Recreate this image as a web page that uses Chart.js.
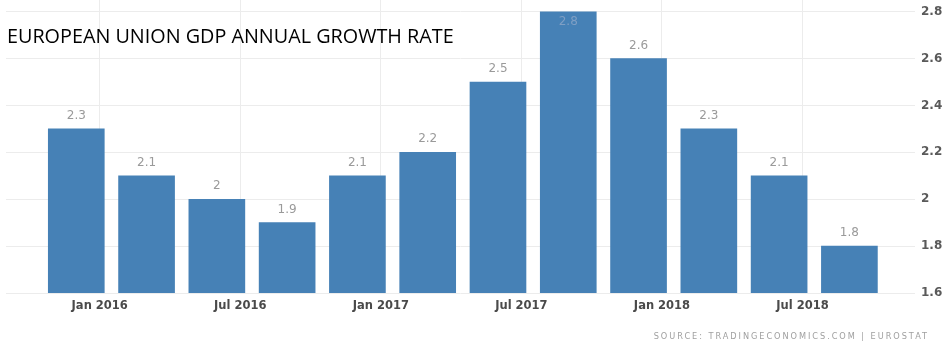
<!DOCTYPE html>
<html>
<head>
<meta charset="utf-8">
<script src="https://cdn.jsdelivr.net/npm/chart.js@4.4.0/dist/chart.umd.min.js"></script>
<style>
  body { margin: 0; background: #fff; }
  #wrap { position: relative; width: 943px; height: 343px; overflow: hidden; }
  #title { position: absolute; left: 7px; top: 22px; font-family: "Open Sans", sans-serif; font-size: 19.8px; color: #000; }
  #source { position: absolute; right: 14px; top: 331px; font-family: "DejaVu Sans", sans-serif; font-size: 8.2px; letter-spacing: 1.95px; color: #a0a0a0; }
</style>
</head>
<body>
<div id="wrap">
  <canvas id="gdpChart" width="943" height="343"></canvas>
  <div id="title">EUROPEAN UNION GDP ANNUAL GROWTH RATE</div>
  <div id="source">SOURCE: TRADINGECONOMICS.COM | EUROSTAT</div>
</div>
<script>
// quarterly readings, dated at the quarter's last month
var quarterDates = ['2015-12', '2016-03', '2016-06', '2016-09', '2016-12', '2017-03',
                    '2017-06', '2017-09', '2017-12', '2018-03', '2018-06', '2018-09'];
var growthValues = [2.3, 2.1, 2.0, 1.9, 2.1, 2.2, 2.5, 2.8, 2.6, 2.3, 2.1, 1.8];
var xTickDates = ['2016-01', '2016-07', '2017-01', '2017-07', '2018-01', '2018-07'];
var yTicks = [1.6, 1.8, 2, 2.2, 2.4, 2.6, 2.8];

var monthNames = ['Jan', 'Feb', 'Mar', 'Apr', 'May', 'Jun', 'Jul', 'Aug', 'Sep', 'Oct', 'Nov', 'Dec'];

function monthIndex(d) {
    var parts = d.split('-');
    return (parseInt(parts[0]) - 2016) * 12 + parseInt(parts[1]) - 1;
}

function monthLabel(idx) {
    var m = ((idx % 12) + 12) % 12;
    var y = 2016 + Math.floor(idx / 12);
    return monthNames[m] + ' ' + y;
}

var points = [];
for (var i = 0; i < quarterDates.length; i++) {
    points.push({ x: monthIndex(quarterDates[i]), y: growthValues[i] });
}

// value labels above bars (inside the bar when it hits the top)
var valueLabels = {
    id: 'valueLabels',
    afterDatasetsDraw: function (chart) {
        var ctx = chart.ctx;
        var meta = chart.getDatasetMeta(0);
        ctx.save();
        ctx.font = '12px "DejaVu Sans"';
        ctx.textAlign = 'center';
        ctx.textBaseline = 'middle';
        meta.data.forEach(function (bar, i) {
            var y = bar.y - 13;
            if (y < chart.chartArea.top + 14) {
                ctx.fillStyle = '#7f9fc4';
                ctx.fillText(String(growthValues[i]), bar.x, bar.y + 10);
            } else {
                ctx.fillStyle = '#9a9a9a';
                ctx.fillText(String(growthValues[i]), bar.x, y);
            }
        });
        ctx.restore();
    }
};

function noPad(axis) {
    axis.paddingTop = 0;
    axis.paddingBottom = 0;
    axis.paddingLeft = 0;
    axis.paddingRight = 0;
}

var ctx = document.getElementById('gdpChart').getContext('2d');
var gdpChart = new Chart(ctx, {
    type: 'bar',
    data: {
        datasets: [{
            data: points,
            backgroundColor: '#4681b6',
            barThickness: 56
        }]
    },
    options: {
        responsive: false,
        animation: false,
        layout: { padding: { left: 6, right: 0, top: 0, bottom: 0 } },
        plugins: {
            legend: { display: false },
            tooltip: { enabled: false }
        },
        scales: {
            x: {
                type: 'linear',
                offset: false,
                min: -4,
                max: 34.8,
                afterBuildTicks: function (axis) {
                    axis.ticks = xTickDates.map(function (d) { return { value: monthIndex(d) }; });
                },
                afterFit: function (axis) { axis.height = 50; noPad(axis); },
                grid: { color: '#ececec', drawTicks: false, offset: false },
                border: { display: false },
                ticks: {
                    autoSkip: false,
                    maxRotation: 0,
                    padding: 6,
                    color: '#4a4a4a',
                    font: { family: 'DejaVu Sans', size: 11.5, weight: 'bold' },
                    callback: function (v) { return monthLabel(v); }
                }
            },
            y: {
                position: 'right',
                min: 1.6,
                max: 2.85,
                afterBuildTicks: function (axis) {
                    axis.ticks = yTicks.map(function (v) { return { value: v }; });
                },
                afterFit: function (axis) { axis.width = 28; noPad(axis); },
                grid: { color: '#ececec', drawTicks: false },
                border: { display: false },
                ticks: {
                    padding: 6,
                    color: '#5a5a5a',
                    font: { family: 'DejaVu Sans', size: 12, weight: 'bold' },
                    callback: function (v) { return String(v); }
                }
            }
        }
    },
    plugins: [valueLabels]
});
</script>
</body>
</html>
